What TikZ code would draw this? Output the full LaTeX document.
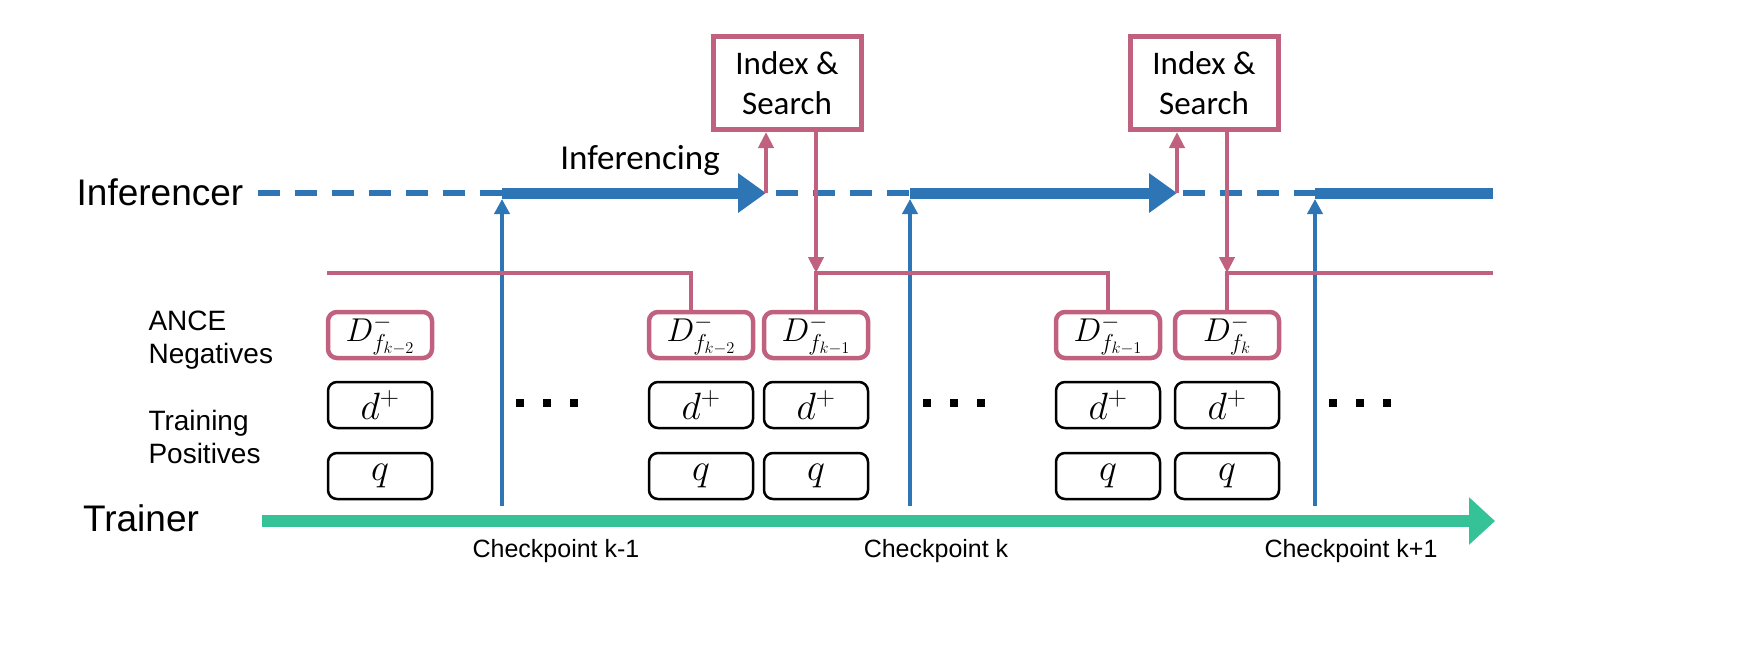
\RequirePackage{fix-cm}
\documentclass[tikz,border=0pt]{standalone}
\usepackage{amsmath}
\usepackage{fontspec}
\setmainfont{Liberation Sans}
\newfontfamily\carlito{Carlito}
\usetikzlibrary{arrows.meta}
\definecolor{infblue}{RGB}{46,117,182}
\definecolor{ancepink}{RGB}{192,98,127}
\definecolor{trngreen}{RGB}{53,194,150}

\begin{document}
\begin{tikzpicture}[x=1pt, y=-1pt,
    negbox/.style={draw=ancepink, line width=4.5pt, rounded corners=9pt, minimum width=104pt, minimum height=46pt, inner sep=0pt, font=\fontsize{33}{38}\selectfont},
    posbox/.style={draw, line width=2.5pt, rounded corners=9pt, minimum width=104pt, minimum height=46pt, inner sep=0pt, font=\fontsize{38}{42}\selectfont},
    idxbox/.style={draw=ancepink, line width=5pt, minimum width=148pt, minimum height=93pt, inner sep=0pt, align=center, font=\carlito\fontsize{33}{40}\selectfont},
    rowlabel/.style={anchor=west, align=left, font=\fontsize{28}{33}\selectfont},
    cklabel/.style={font=\fontsize{25}{30}\selectfont},
    pinkline/.style={draw=ancepink, line width=4.5pt},
    pinkarrow/.style={pinkline, -{Triangle[length=16pt,width=15pt]}},
    ckarrow/.style={draw=infblue, line width=4.5pt, -{Triangle[length=15pt,width=15pt]}},
    infarrow/.style={draw=infblue, line width=11pt, -{Triangle[length=28pt,width=38pt]}}]
  \useasboundingbox (0,0) rectangle (1743,657);

  % lane titles
  \node[font=\fontsize{37}{44}\selectfont] (inferencer) at (160,192) {Inferencer};
  \node[font=\fontsize{37}{44}\selectfont] (trainer) at (141,518) {Trainer};
  \node[rowlabel] (ancelbl) at (145,340) {ANCE\\Negatives};
  \node[rowlabel] (poslbl) at (145,437) {Training\\Positives};

  % index and search
  \node[idxbox] (idx1) at (787,83) {Index \&\\Search};
  \node[idxbox] (idx2) at (1204,83) {Index \&\\Search};
  \node[font=\carlito\fontsize{35}{42}\selectfont] (inferencing) at (640,160) {Inferencing};

  % batches
  \node[negbox] (neg1) at (380,335) {$D^{-}_{f_{k-2}}$};
  \node[negbox] (neg2) at (701,335) {$D^{-}_{f_{k-2}}$};
  \node[negbox] (neg3) at (816,335) {$D^{-}_{f_{k-1}}$};
  \node[negbox] (neg4) at (1108,335) {$D^{-}_{f_{k-1}}$};
  \node[negbox] (neg5) at (1227,335) {$D^{-}_{f_{k}}$};

  \node[posbox] (pos1) at (380,405) {$d^+$};
  \node[posbox] (pos2) at (701,405) {$d^+$};
  \node[posbox] (pos3) at (816,405) {$d^+$};
  \node[posbox] (pos4) at (1108,405) {$d^+$};
  \node[posbox] (pos5) at (1227,405) {$d^+$};

  \node[posbox] (qry1) at (380,476) {$q$};
  \node[posbox] (qry2) at (701,476) {$q$};
  \node[posbox] (qry3) at (816,476) {$q$};
  \node[posbox] (qry4) at (1108,476) {$q$};
  \node[posbox] (qry5) at (1227,476) {$q$};

  \foreach \x in {520,547,574,927,954,981,1333,1360,1387}
    \fill (\x,403) ++(-4,-4) rectangle ++(8,8);

  % inferencer timeline
  \coordinate (infL) at (258,193);
  \coordinate (infR) at (1493,193);
  \coordinate (inf1) at (766,193);
  \coordinate (inf2) at (1177,193);
  \draw[infblue, line width=6pt, dash pattern=on 22pt off 15pt] (infL) -- (infR);

  \coordinate (ck1) at (502,506);
  \coordinate (ck2) at (910,506);
  \coordinate (ck3) at (1315,506);
  \draw[infarrow] (ck1 |- infL) -- (inf1);
  \draw[infarrow] (ck2 |- infL) -- (inf2);
  \draw[infblue, line width=11pt] (ck3 |- infL) -- (infR);
  \draw[ckarrow] (ck1) -- ([yshift=-6pt]ck1 |- infL);
  \draw[ckarrow] (ck2) -- ([yshift=-6pt]ck2 |- infL);
  \draw[ckarrow] (ck3) -- ([yshift=-6pt]ck3 |- infL);

  % trainer timeline
  \coordinate (trnL) at (262,521);
  \coordinate (trnR) at (1495,521);
  \draw[trngreen, line width=12pt, -{Triangle[length=26pt,width=46pt]}] (trnL) -- (trnR);
  \node[cklabel] (cklbl1) at (556,551) {Checkpoint k-1};
  \node[cklabel] (cklbl2) at (936,551) {Checkpoint k};
  \node[cklabel] (cklbl3) at (1351,551) {Checkpoint k+1};

  % negatives refresh
  \coordinate (negL) at (327,273);
  \coordinate (negR) at (1493,273);
  \coordinate (hit1) at (neg3.north |- negL);
  \coordinate (hit2) at (neg5.north |- negL);
  \draw[pinkline] (negL) -| ([xshift=-10pt]neg2.north);
  \draw[pinkline] (neg3.north) -- (hit1) -| (neg4.north);
  \draw[pinkline] (neg5.north) -- (hit2) -- (negR);
  \draw[pinkarrow] (inf1) -- (idx1.south -| inf1);
  \draw[pinkarrow] (inf2) -- (idx2.south -| inf2);
  \draw[pinkarrow] (idx1.south -| hit1) -- (hit1);
  \draw[pinkarrow] (idx2.south -| hit2) -- (hit2);
\end{tikzpicture}
\end{document}
